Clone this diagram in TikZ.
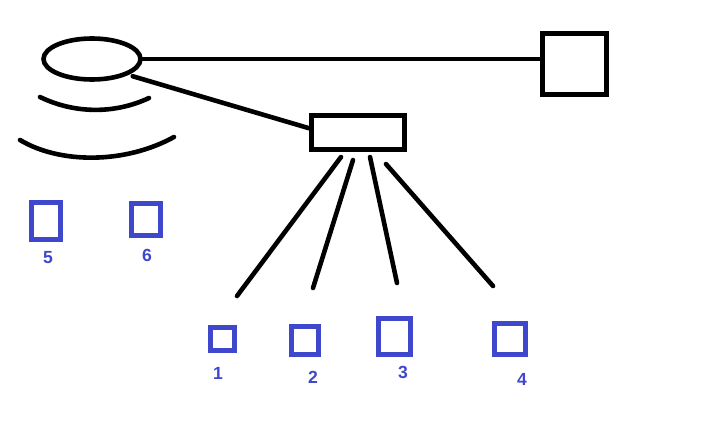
\documentclass[tikz,border=0pt]{standalone}
\usepackage{fontspec}
\setsansfont{Liberation Sans}
\usetikzlibrary{shapes.geometric,calc}
\newdimen\pxunit
\setlength{\pxunit}{0.05cm}
\definecolor{paintblue}{HTML}{3F48CC}
\tikzset{
  blk/.style={line width=4.6\pxunit,line cap=round},
  boxsq/.style={draw=paintblue,line width=5\pxunit,inner sep=0pt},
  numlbl/.style={text=paintblue,font=\sffamily\bfseries\fontsize{25}{29}\selectfont,inner sep=0pt}
}

\begin{document}
\begin{tikzpicture}[x=\pxunit,y=\pxunit]
\useasboundingbox (0,0) rectangle (701,-420);
\node[blk,draw,ellipse,minimum width=97\pxunit,minimum height=41\pxunit,inner sep=0pt] (ell) at (92,-59) {};
\node[blk,draw,minimum width=64.5\pxunit,minimum height=61.5\pxunit,inner sep=0pt] (bigsq) at (574.5,-64) {};
\node[blk,draw,minimum width=93.5\pxunit,minimum height=34.5\pxunit,inner sep=0pt] (hub) at (358,-132.5) {};
\draw[blk] (ell.east) -- (ell.east -| bigsq.west);
\draw[blk] ($(ell.-22)+(3,-2)$) -- (hub.175);
\draw[blk] (40,-97) .. controls (75,-114) and (115,-114) .. (149,-98);
\draw[blk] (20,-140) .. controls (60,-164) and (125,-164) .. (174,-137);
\foreach \wname/\wx/\wy in {w1/237/-296,w2/313/-288,w3/397/-283,w4/493/-286}{
  \coordinate (\wname) at (\wx,\wy);
}
\foreach \wname/\dx/\dy in {w1/-17/-5,w2/-5/-8,w3/12/-5,w4/28/-12}{
  \draw[blk] ($(hub.south)+(\dx,\dy)$) -- (\wname);
}
\foreach \sqnum/\sqx/\sqy/\sqw/\sqh/\lx/\ly in {5/46/-221/29/37/48/-258,6/146/-219.5/29/32/147/-255,1/222.5/-339/24/23/218/-373,2/305/-340.5/27/28/313/-377,3/394.5/-336.5/32/36/403/-372,4/510/-339/31/31/522/-379}{
  \node[boxsq,minimum width=\sqw\pxunit,minimum height=\sqh\pxunit] (sq\sqnum) at (\sqx,\sqy) {};
  \node[numlbl] (lbl\sqnum) at (\lx,\ly) {\sqnum};
}
\end{tikzpicture}
\end{document}
